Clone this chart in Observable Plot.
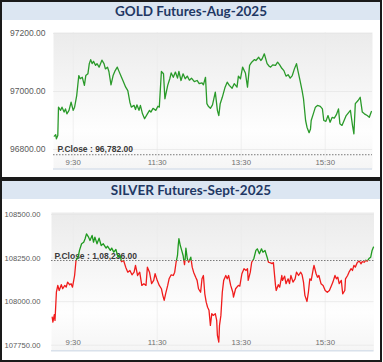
<!DOCTYPE html>
<html><head><meta charset="utf-8">
<script src="https://cdn.jsdelivr.net/npm/d3@7"></script>
<script src="https://cdn.jsdelivr.net/npm/@observablehq/plot@0.6"></script>
<style>
html,body{margin:0;padding:0;background:#fff;}
#page{position:relative;width:383px;height:362px;overflow:hidden;font-family:"Liberation Sans",Arial,sans-serif;}
.panel{position:absolute;left:0;width:382px;box-sizing:border-box;border:2px solid #1a1a1a;background:#fff;}
.title{position:absolute;left:0;right:0;top:0;height:18px;background:#dce6f2;color:#1f3864;font-family:Lato,"Liberation Sans",sans-serif;font-weight:bold;font-size:13.5px;line-height:18px;text-align:center;white-space:nowrap;}
.clip{position:absolute;overflow:hidden;}
.clip svg{position:absolute;top:0;}
</style></head>
<body>
<div id="page">
  <div class="panel" style="top:0;height:179px;"><div class="title" id="t0"></div></div>
  <div class="panel" style="top:179px;height:183px;"><div class="title" id="t1"></div></div>
</div>
<script>
const titles = ["GOLD Futures-Aug-2025", "SILVER Futures-Sept-2025"];
const timeTicks = [30, 150, 270, 390];            // minutes after 9:00
const timeTickLabels = ["9:30", "11:30", "13:30", "15:30"];

const goldPrevClose = 96782;
const goldYTicks = [96800, 97000, 97200];
const goldMinutes = [3,5,6,8,9,12,14,17,19,21,24,27,30,32,35,38,40,43,46,48,51,53,55,57,59,62,64,67,69,71,74,76,79,81,84,87,90,93,95,99,101,105,108,111,113,117,119,121,124,126,129,132,136,139,141,144,148,151,153,156,159,161,165,168,170,173,176,179,181,184,187,190,193,196,199,203,207,210,214,216,219,221,223,226,229,233,236,238,240,243,247,250,253,257,260,264,266,269,272,276,279,282,285,289,291,295,298,300,303,307,310,312,315,319,322,325,328,331,334,337,340,343,346,349,351,354,357,359,362,364,367,369,370,373,376,379,383,386,388,391,394,397,400,403,406,409,411,414,417,420,424,426,429,431,433,437,440,443,446,450,453,456];
const goldPrice = [96846,96851,96837,96848,96946,96935,96946,96929,96940,96923,96935,96963,96935,96946,96986,97055,97044,97049,97021,97055,97061,97096,97110,97096,97104,97090,97096,97084,97096,97108,97096,97078,97084,97069,97023,97055,97072,97084,97072,97049,97038,97015,97003,96963,96946,96952,96938,96954,96935,96952,96923,96906,96923,96935,96929,96942,96935,96949,96946,97069,97061,96975,97021,97044,97064,97049,97067,97046,97069,97038,97061,97044,97053,97039,97046,97034,97038,97027,97030,97023,97049,96958,96949,96942,96954,96998,96935,96917,96958,96980,97015,97032,97021,97011,97027,97015,97053,97044,97084,97064,97015,97090,97101,97110,97107,97118,97107,97113,97130,97096,97087,97084,97092,97090,97101,97092,97080,97072,97053,97058,97046,97055,97078,97096,97072,97038,97003,96975,96900,96877,96858,96871,96900,96923,96946,96952,96949,96940,96900,96897,96917,96894,96911,96908,96920,96940,96889,96883,96900,96917,96929,96935,96883,96854,96958,96969,96980,96929,96923,96917,96911,96931];

const silverPrevClose = 108236;
const silverYTicks = [107750, 108000, 108250, 108500];
const silverMinutes = [0,1,3,4,6,8,10,13,15,18,20,22,25,27,29,32,34,37,39,42,45,47,49,52,54,57,59,61,64,67,70,73,77,79,83,85,88,91,94,97,99,102,105,108,111,114,117,119,122,125,128,131,134,136,139,142,145,147,150,153,156,158,160,162,165,167,170,173,175,177,179,180,181,183,185,187,189,190,191,193,195,198,200,202,205,207,209,212,214,216,218,220,222,224,226,228,230,233,235,236,238,239,241,243,245,248,250,252,255,258,259,262,266,268,271,274,277,279,280,283,285,288,291,293,296,299,301,304,307,309,312,314,316,319,320,323,325,328,329,332,334,337,339,341,344,347,349,352,355,357,359,361,364,366,368,370,373,374,377,379,381,384,387,390,393,396,399,401,404,406,408,410,413,415,418,419,422,424,427,429,431,433,436,439,441,443,446,448,450,453,455,457,459];
const silverPrice = [107911,107882,107925,107892,108054,108093,108064,108097,108074,108093,108083,108112,108097,108103,108083,108150,108236,108255,108294,108332,108341,108361,108389,108370,108351,108380,108341,108370,108332,108364,108322,108332,108307,108318,108294,108307,108284,108299,108255,108265,108230,108236,108198,108169,108179,108154,108169,108208,108150,108169,108093,108103,108093,108198,108169,108103,108122,108160,108122,108093,108074,108036,108007,108045,108093,108131,108154,108150,108169,108226,108265,108322,108361,108322,108294,108265,108212,108246,108307,108246,108226,108255,108198,108169,108140,108122,108074,108054,108131,108150,108045,107997,107968,107950,107864,107931,107921,107931,107892,107806,107768,107864,107921,108054,108122,108150,108131,108150,108093,108054,108026,108074,108093,108089,108160,108189,108179,108189,108122,108169,108226,108246,108294,108303,108275,108303,108284,108294,108255,108226,108222,108218,108224,108093,108064,108097,108083,108150,108122,108146,108103,108131,108103,108150,108112,108131,108169,108150,108169,108154,108112,108036,108001,108054,108131,108122,108189,108208,108160,108140,108150,108103,108093,108064,108054,108064,108093,108112,108150,108131,108140,108103,108122,108045,108064,108131,108150,108169,108189,108179,108208,108198,108226,108232,108217,108230,108226,108238,108232,108249,108255,108294,108313];

document.getElementById("t0").textContent = titles[0];
document.getElementById("t1").textContent = titles[1];

function inr(v) {
  const s = v.toFixed(2);
  let [i, f] = s.split(".");
  let last3 = i.slice(-3), rest = i.slice(0, -3);
  if (rest) last3 = rest.replace(/\B(?=(\d{2})+(?!\d))/g, ",") + "," + last3;
  return last3 + "." + f;
}

function makeChart(cfg) {
  const data = cfg.minutes.map((m, i) => ({m, v: cfg.values[i]}));
  const xt = timeTicks.map((m, i) => ({m, label: timeTickLabels[i]}));
  const svg = Plot.plot({
    width: 383, height: cfg.height,
    marginLeft: cfg.mL, marginRight: cfg.mR, marginTop: cfg.mT, marginBottom: cfg.mB,
    style: {fontFamily: "Liberation Sans, Arial, sans-serif", fontSize: "8.5px", background: "transparent", maxWidth: "none", overflow: "visible"},
    x: {domain: [0, 460], range: [51.7, 373.7], axis: null},
    y: {domain: cfg.yDomain, range: cfg.yRange, axis: null},
    marks: [
      Plot.frame({fill: `url(#${cfg.id}-bg)`, stroke: null}),
      Plot.ruleX(timeTicks, {x: d => d, stroke: "#e9e9e9", strokeOpacity: 0.7}),
      Plot.ruleY(cfg.yTicks, {y: d => d, stroke: "#e6e6e6", strokeOpacity: 0.7}),
      Plot.text(cfg.yTicks, {y: d => d, frameAnchor: "left", dx: -cfg.tickPad, textAnchor: "end", text: d => d.toFixed(2), fill: "#5a5a5a", fontSize: cfg.tickFont}),
      Plot.text(xt, {x: "m", frameAnchor: "bottom", dy: -cfg.xDy, text: "label", fill: "#707070", fontSize: 7.8}),
      Plot.ruleY([cfg.pclose], {y: d => d, stroke: "#7a7a7a", strokeDasharray: "1.5,1.5"}),
      Plot.text([cfg.pclose], {y: d => d, frameAnchor: "left", dx: cfg.pDx, dy: cfg.pDy, textAnchor: "start", text: d => "P.Close : " + inr(d), fontWeight: "bold", fill: "#3a3a3a", fontSize: 8.5}),
      Plot.line(data, {x: "m", y: "v", stroke: cfg.above, strokeWidth: 1.3}),
      Plot.line(data, {x: "m", y: "v", stroke: cfg.below, strokeWidth: 1.3})
    ]
  });
  const yPix = svg.scale("y").apply(cfg.pclose);
  const ns = "http://www.w3.org/2000/svg";
  const defs = document.createElementNS(ns, "defs");
  defs.innerHTML =
    `<linearGradient id="${cfg.id}-bg" x1="0" y1="0" x2="0" y2="1">
       <stop offset="0" stop-color="#ebebeb"/><stop offset="0.72" stop-color="#fefefe"/><stop offset="1" stop-color="#f5f5f5"/>
     </linearGradient>
     <clipPath id="${cfg.id}-up"><rect x="0" y="0" width="383" height="${yPix}"/></clipPath>
     <clipPath id="${cfg.id}-dn"><rect x="0" y="${yPix}" width="383" height="${cfg.height - yPix}"/></clipPath>`;
  svg.insertBefore(defs, svg.firstChild);
  const lines = svg.querySelectorAll('g[aria-label="line"]');
  if (lines.length >= 2) {
    lines[lines.length - 2].setAttribute("clip-path", `url(#${cfg.id}-up)`);
    lines[lines.length - 1].setAttribute("clip-path", `url(#${cfg.id}-dn)`);
  }
  const fb = cfg.height - cfg.mB;
  const ln = document.createElementNS(ns, "line");
  ln.setAttribute("x1", cfg.mL); ln.setAttribute("x2", 383 - cfg.mR);
  ln.setAttribute("y1", fb); ln.setAttribute("y2", fb);
  ln.setAttribute("stroke", "#d9e1eb"); ln.setAttribute("stroke-width", "1.5");
  svg.appendChild(ln);

  const box = document.createElement("div");
  box.className = "clip";
  box.style.left = cfg.clipX + "px";
  box.style.top = cfg.top + "px";
  box.style.width = (381 - cfg.clipX) + "px";
  box.style.height = (cfg.height - 3) + "px";
  svg.style.left = (-cfg.clipX) + "px";
  box.appendChild(svg);
  document.getElementById("page").appendChild(box);
}

makeChart({id: "gold", minutes: goldMinutes, values: goldPrice, pclose: goldPrevClose,
  yTicks: goldYTicks, yDomain: [96800, 97200], yRange: [149, 33],
  top: 0, height: 180, mL: 53, mR: 11, mT: 32, mB: 11, clipX: 2, tickPad: 8, tickFont: 8.5,
  xDy: 4.5, pDx: 4, pDy: -5.7, above: "#2a9a2a", below: "#2a9a2a"});

makeChart({id: "silver", minutes: silverMinutes, values: silverPrice, pclose: silverPrevClose,
  yTicks: silverYTicks, yDomain: [107750, 108500], yRange: [164.7, 34],
  top: 180, height: 182, mL: 51, mR: 9.5, mT: 32, mB: 11.3, clipX: 2, tickPad: 11, tickFont: 7.6,
  xDy: 6, pDx: 3, pDy: -4.5, above: "#1f9a1f", below: "#f01c1c"});
</script>
</body></html>
